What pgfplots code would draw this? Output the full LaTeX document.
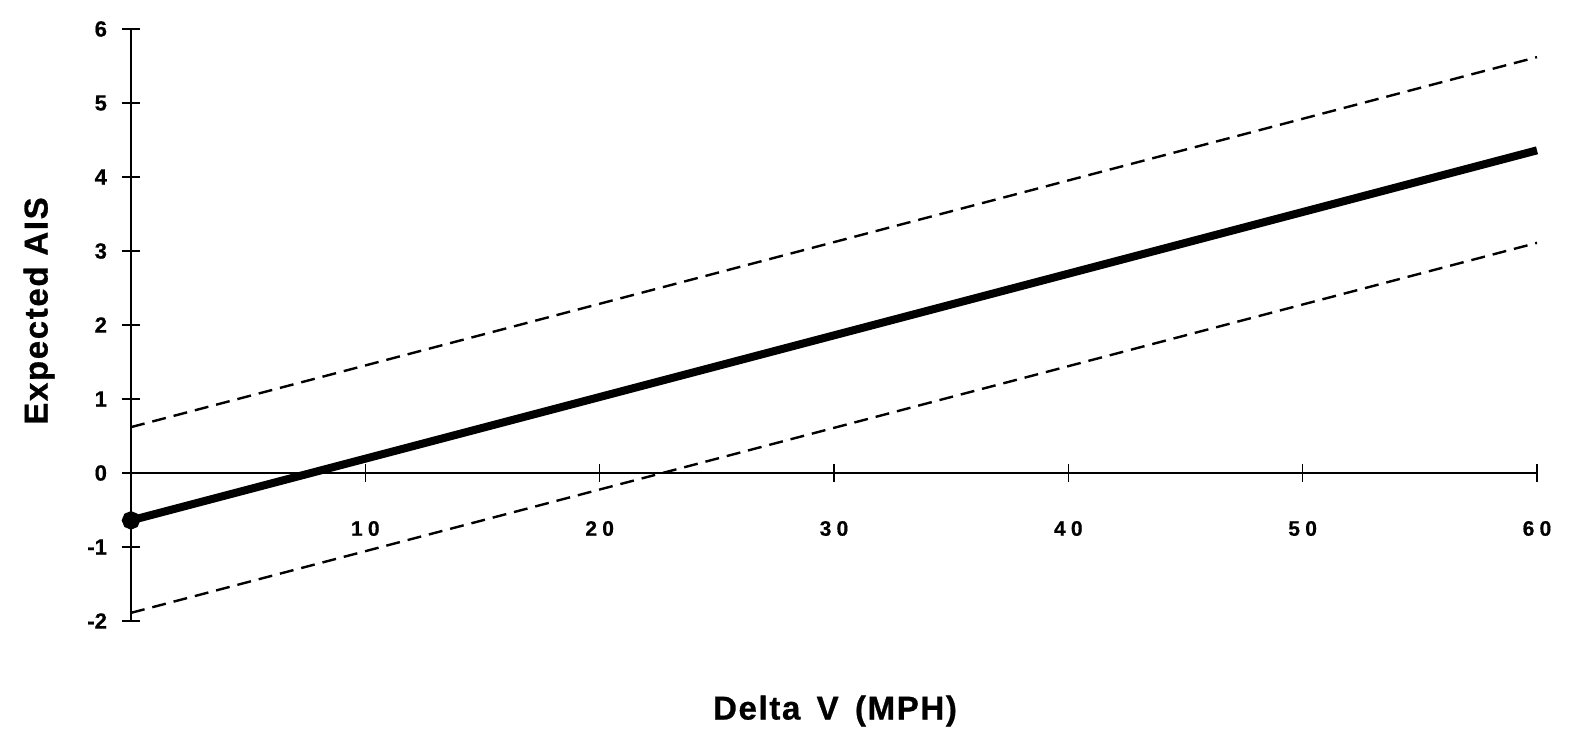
\documentclass[border=0pt]{standalone}
\usepackage{fontspec}
\setmainfont{Liberation Sans}
\newfontfamily\spaced[LetterSpace=25,FakeBold=0.6]{Liberation Sans}
\newfontfamily\ticky[FakeBold=0.6]{Liberation Sans}
\newfontfamily\labfont[LetterSpace=5,FakeBold=0.8]{Liberation Sans}
\usepackage{pgfplots}
\pgfplotsset{compat=1.18}
\begin{document}
\begin{tikzpicture}
\begin{axis}[
  scale only axis,
  width=703pt, height=296pt,
  xmin=0, xmax=60, ymin=-2, ymax=6,
  axis x line=middle, axis y line=left,
  x axis line style={-, line width=0.6pt},
  y axis line style={-, line width=1.4pt},
  xtick={10,20,30,40,50,60},
  ytick={-2,-1,0,1,2,3,4,5,6},
  tick align=center,
  major tick length=9pt,
  tick style={line width=0.8pt, black},
  /pgf/number format/assume math mode=true,
  xticklabel style={font=\spaced\bfseries\fontsize{10.5}{12}\selectfont, anchor=north, yshift=-16pt},
  yticklabel style={font=\ticky\bfseries\fontsize{11}{12}\selectfont, anchor=east, xshift=-4pt},
  clip=false,
]
\addplot[black, line width=4pt, mark=*, mark size=2.5pt, mark indices={1}] coordinates {(0,-0.64) (60,4.36)};
\addplot[black, line width=1.2pt, dash pattern=on 7pt off 4pt] coordinates {(0,0.62) (60,5.62)};
\addplot[black, line width=1.2pt, dash pattern=on 7pt off 4pt] coordinates {(0,-1.89) (60,3.11)};
\end{axis}
\node[font=\labfont\bfseries\fontsize{16.5}{18}\selectfont, rotate=90] at (-46pt,155pt) {Expected AIS};
\node[font=\labfont\bfseries\fontsize{16.5}{18}\selectfont] at (352pt,-45pt) {Delta\, V\, (MPH)};
\path (-65.5pt,-58.5pt) rectangle (719.5pt,310.5pt);
\end{tikzpicture}
\end{document}
